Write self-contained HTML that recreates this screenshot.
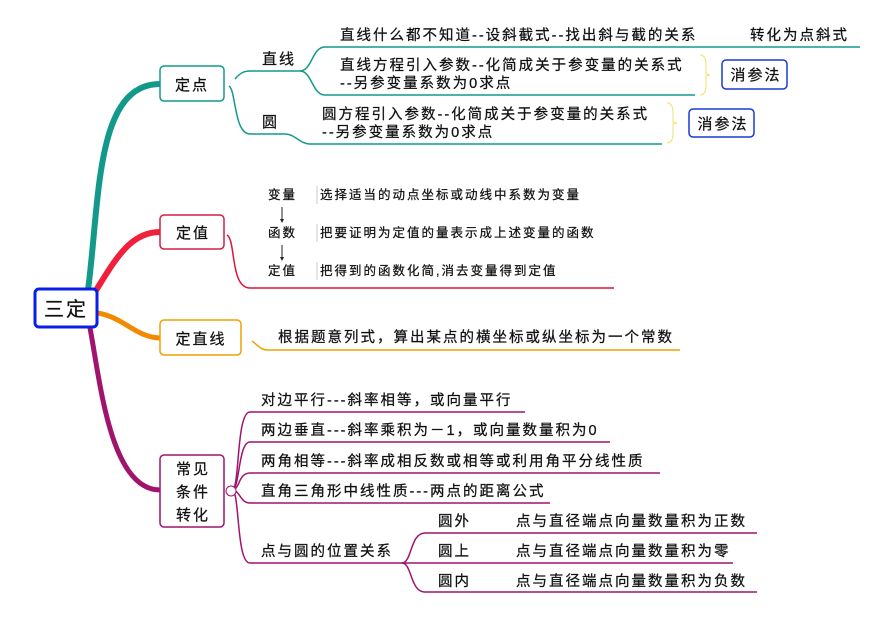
<!DOCTYPE html>
<html><head><meta charset="utf-8"><style>
body{margin:0;background:#fff}
svg text{font-family:"Liberation Sans","Noto Sans CJK SC",sans-serif;fill:#111;letter-spacing:2px;stroke:#111;stroke-width:0.25px}
</style></head><body>
<svg width="890" height="618" viewBox="0 0 890 618" xmlns="http://www.w3.org/2000/svg">
<!-- main branches -->
<path d="M88 290 C100 200,95 84,160 84" fill="none" stroke="#12998a" stroke-width="6"/>
<path d="M95 292 C115 260,130 232,160 232" fill="none" stroke="#f0203c" stroke-width="6"/>
<path d="M98 313 C125 318,135 337,160 338" fill="none" stroke="#f28a00" stroke-width="5"/>
<path d="M90 328 C100 380,110 490,160 490" fill="none" stroke="#a0146e" stroke-width="5"/>

<!-- root -->
<rect x="35" y="289" width="62" height="38" rx="4" fill="#fff" stroke="#0a1ee8" stroke-width="3"/>
<text x="66" y="316" font-size="20" text-anchor="middle">三定</text>

<!-- 定点 -->
<rect x="160" y="66" width="64" height="35" rx="4" fill="#fff" stroke="#12998a" stroke-width="1.5"/>
<text x="192" y="90" font-size="15" text-anchor="middle">定点</text>
<g fill="none" stroke="#12998a" stroke-width="1.5">
<path d="M235 79 C240 73,244 71,250 71 L300 71"/>
<path d="M300 71 C312 71,312 47,325 47 L860 47"/>
<path d="M300 71 C312 71,312 95,325 95 L695 95"/>
<path d="M229 86 C236 90,234 134,250 134 L285 134 C295 134,300 144,310 144 L662 144"/>
</g>
<text x="262" y="64" font-size="15">直线</text>
<text x="262" y="127" font-size="15">圆</text>
<text x="340" y="40" font-size="14.5">直线什么都不知道--设斜截式--找出斜与截的关系</text>
<text x="750" y="40" font-size="14.5">转化为点斜式</text>
<text x="340" y="70" font-size="14.5">直线方程引入参数--化简成关于参变量的关系式</text>
<text x="340" y="88" font-size="14.5">--另参变量系数为0求点</text>
<text x="322" y="119" font-size="14.5">圆方程引入参数--化简成关于参变量的关系式</text>
<text x="322" y="137" font-size="14.5">--另参变量系数为0求点</text>
<path d="M700 55 Q706 55,706 65 L706 74 L710 75 L706 76 L706 85 Q706 95,700 95" fill="none" stroke="#f0e070" stroke-width="1"/>
<path d="M667 103 Q673 103,673 113 L673 122 L677 123 L673 124 L673 133 Q673 143,667 143" fill="none" stroke="#f0e070" stroke-width="1"/>
<rect x="722" y="60" width="65" height="29" rx="4" fill="#fff" stroke="#1a3bd0" stroke-width="1.5"/>
<text x="756" y="80" font-size="15" text-anchor="middle">消参法</text>
<rect x="689" y="109" width="65" height="28" rx="4" fill="#fff" stroke="#1a3bd0" stroke-width="1.5"/>
<text x="723" y="129" font-size="15" text-anchor="middle">消参法</text>

<!-- 定值 -->
<rect x="160" y="215" width="64" height="34" rx="4" fill="#fff" stroke="#d02040" stroke-width="1.5"/>
<text x="193" y="238" font-size="15" text-anchor="middle">定值</text>
<path d="M227 235 C236 240,230 288,250 288 L614 288" fill="none" stroke="#e0103a" stroke-width="1.5"/>
<g font-size="12.5">
<text x="268" y="199">变量</text>
<text x="268" y="237">函数</text>
<text x="268" y="275">定值</text>
<text x="320" y="199">选择适当的动点坐标或动线中系数为变量</text>
<text x="320" y="237">把要证明为定值的量表示成上述变量的函数</text>
<text x="320" y="275">把得到的函数化简,消去变量得到定值</text>
</g>
<g stroke="#ccc" stroke-width="1"><line x1="317" y1="186" x2="317" y2="204"/><line x1="317" y1="224" x2="317" y2="242"/><line x1="317" y1="262" x2="317" y2="280"/></g>
<g stroke="#222" stroke-width="1"><line x1="282" y1="207" x2="282" y2="220"/><line x1="282" y1="245" x2="282" y2="258"/></g>
<path d="M280 219 L282 223 L284 219Z M280 257 L282 261 L284 257Z" fill="#222"/>

<!-- 定直线 -->
<rect x="160" y="320" width="81" height="35" rx="4" fill="#fff" stroke="#f0a000" stroke-width="1.5"/>
<text x="201" y="344" font-size="15" text-anchor="middle">定直线</text>
<path d="M252 341 C258 345,260 350,268 350 L680 350" fill="none" stroke="#f0a000" stroke-width="1.5"/>
<text x="278" y="342" font-size="14.5">根据题意列式，算出某点的横坐标或纵坐标为一个常数</text>

<!-- 常见条件转化 -->
<rect x="160" y="455" width="64" height="72" rx="4" fill="#fff" stroke="#a0146e" stroke-width="1.5"/>
<g font-size="15" text-anchor="middle"><text x="193" y="474">常见</text><text x="193" y="497">条件</text><text x="193" y="520">转化</text></g>
<g fill="none" stroke="#a0146e" stroke-width="1.5">
<path d="M232 490 C240 490,236 412,250 412 L525 412"/>
<path d="M232 490 C240 490,238 442,250 442 L610 442"/>
<path d="M232 490 C240 490,238 473,250 473 L660 473"/>
<path d="M232 490 C240 490,240 503,250 503 L550 503"/>
<path d="M232 490 C240 490,236 563,250 563 L402 563"/>
<path d="M402 563 C412 563,410 533,425 533 L757 533"/>
<path d="M402 563 L733 563"/>
<path d="M402 563 C412 563,410 592,425 592 L757 592"/>
</g>
<circle cx="231" cy="491" r="5" fill="#fff" stroke="#a0146e" stroke-width="1"/>
<g font-size="14.5">
<text x="261" y="405">对边平行---斜率相等，或向量平行</text>
<text x="261" y="435">两边垂直---斜率乘积为－1，或向量数量积为0</text>
<text x="261" y="466">两角相等---斜率成相反数或相等或利用角平分线性质</text>
<text x="261" y="496">直角三角形中线性质---两点的距离公式</text>
<text x="261" y="556">点与圆的位置关系</text>
<text x="438" y="526">圆外</text>
<text x="438" y="556">圆上</text>
<text x="438" y="586">圆内</text>
<text x="516" y="526">点与直径端点向量数量积为正数</text>
<text x="516" y="556">点与直径端点向量数量积为零</text>
<text x="516" y="586">点与直径端点向量数量积为负数</text>
</g>
</svg>
</body></html>
